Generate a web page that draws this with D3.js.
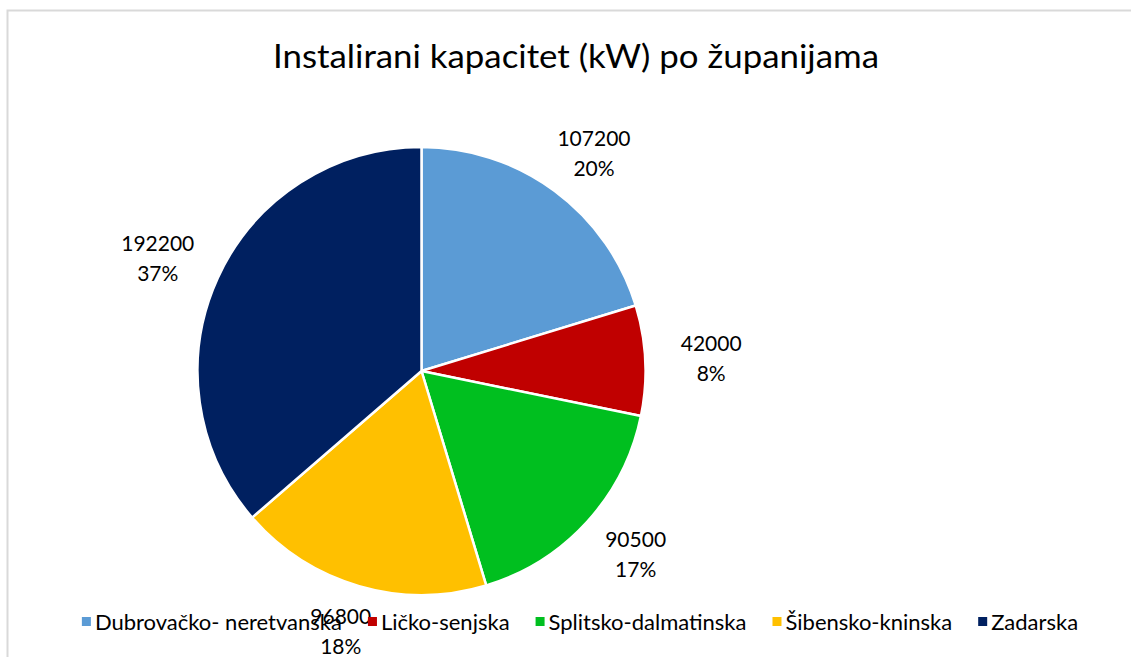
<!DOCTYPE html>
<html>
<head>
<meta charset="utf-8">
<script src="https://cdn.jsdelivr.net/npm/d3@7"></script>
<style>
  html, body { margin: 0; padding: 0; background: #fff; }
  svg { display: block; }
  text { font-family: Lato, "Noto Sans", sans-serif; fill: #000; }
</style>
</head>
<body>
<svg id="chart" width="1131" height="657"></svg>
<script>
// ---- data ----
const categories = ["Dubrovačko- neretvanska", "Ličko-senjska", "Splitsko-dalmatinska", "Šibensko-kninska", "Zadarska"];
const values = [107200, 42000, 90500, 96800, 192200];
const percentLabels = ["20%", "8%", "17%", "18%", "37%"];
const colors = ["#5B9BD5", "#C00000", "#00BF1F", "#FFC000", "#002060"];
const title = "Instalirani kapacitet (kW) po županijama";

const W = 1131, H = 657;
const svg = d3.select("#chart");

// outer border
svg.append("rect")
  .attr("x", 7.5).attr("y", 10.5)
  .attr("width", W + 10).attr("height", H + 10)
  .attr("fill", "none").attr("stroke", "#d9d9d9").attr("stroke-width", 2);

// title
svg.append("text")
  .attr("x", 576).attr("y", 68)
  .attr("text-anchor", "middle")
  .attr("font-size", 32)
  .attr("textLength", 606)
  .attr("lengthAdjust", "spacingAndGlyphs")
  .text(title);

// pie
const cx = 421.5, cy = 371, R = 224;
const data = categories.map((c, i) => ({ name: c, value: values[i], pct: percentLabels[i], color: colors[i] }));
const pie = d3.pie().value(d => d.value).sort(null);
const arcs = pie(data);
const arc = d3.arc().innerRadius(0).outerRadius(R);

const g = svg.append("g").attr("transform", `translate(${cx},${cy})`);
g.selectAll("path.slice")
  .data(arcs)
  .join("path")
  .attr("class", "slice")
  .attr("d", arc)
  .attr("fill", d => d.data.color)
  .attr("stroke", "#fff")
  .attr("stroke-width", 2.5)
  .attr("stroke-linejoin", "round");

// data labels: outside end, on an ellipse around the pie
const rx = R + 66, ry = R + 47;
const labels = g.selectAll("g.lbl")
  .data(arcs)
  .join("g")
  .attr("class", "lbl")
  .attr("transform", d => {
    const a = (d.startAngle + d.endAngle) / 2;
    return `translate(${Math.sin(a) * rx},${-Math.cos(a) * ry})`;
  });
labels.append("text")
  .attr("text-anchor", "middle")
  .attr("font-size", 21)
  .attr("y", -7)
  .text(d => d.data.value);
labels.append("text")
  .attr("text-anchor", "middle")
  .attr("font-size", 21)
  .attr("y", 23)
  .text(d => d.data.pct);

// legend
const legendY = 622;
const lg = svg.append("g");
const items = lg.selectAll("g.item")
  .data(data)
  .join("g")
  .attr("class", "item");
items.append("rect")
  .attr("width", 9).attr("height", 9)
  .attr("y", legendY - 5)
  .attr("fill", d => d.color);
items.append("text")
  .attr("x", 13)
  .attr("y", legendY + 7.5)
  .attr("font-size", 22)
  .text(d => d.name);
// position items horizontally
const gap = 26;
let widths = [];
items.each(function() {
  widths.push(13 + this.querySelector("text").getComputedTextLength());
});
const total = d3.sum(widths) + gap * (widths.length - 1);
let x = 580 - total / 2;
items.each(function(d, i) {
  d3.select(this).attr("transform", `translate(${x},0)`);
  x += widths[i] + gap;
});
</script>
</body>
</html>
